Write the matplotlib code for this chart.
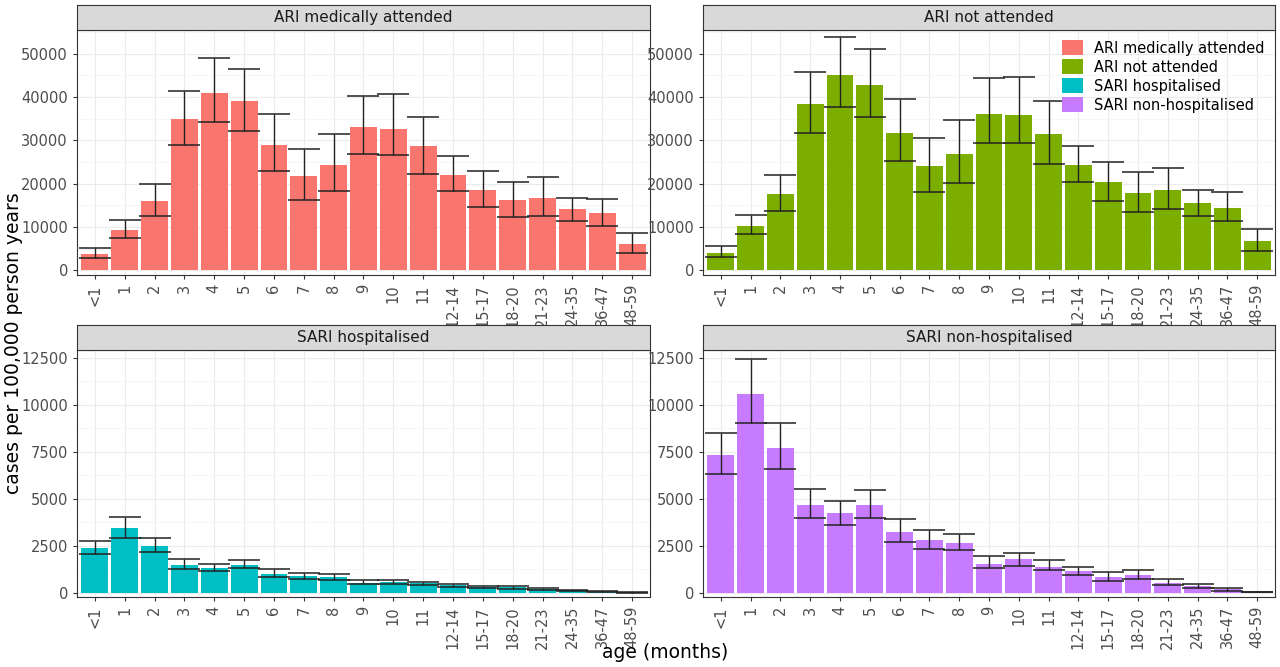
import matplotlib
matplotlib.use("Agg")
import matplotlib.pyplot as plt
import numpy as np
from matplotlib.patches import Patch

ages = ["<1","1","2","3","4","5","6","7","8","9","10","11","12-14","15-17","18-20","21-23","24-35","36-47","48-59"]
titles = ["ARI medically attended","ARI not attended","SARI hospitalised","SARI non-hospitalised"]
colors = ["#F8766D","#7CAE00","#00BFC4","#C77CFF"]

ari_med = [3800,9300,16000,35000,41000,39000,29000,21800,24400,33000,32700,28700,22000,18500,16200,16800,14200,13200,6000]
ari_med_lo = [2800,7500,12500,29000,34300,32200,23000,16300,18200,26800,26600,22200,18300,14500,12200,12600,11400,10200,4000]
ari_med_hi = [5200,11700,20000,41500,49000,46400,36000,27900,31500,40300,40600,35500,26300,22900,20500,21600,16800,16500,8700]

ari_not = [4000,10300,17500,38500,45000,42700,31800,24000,26800,36200,35800,31500,24200,20400,17900,18500,15500,14400,6700]
ari_not_lo = [3000,8300,13800,31800,37700,35500,25300,18100,20200,29500,29300,24600,20300,16000,13500,14100,12600,11300,4400]
ari_not_hi = [5700,12700,22000,45800,53800,51000,39600,30600,34600,44400,44700,39000,28800,25100,22600,23600,18500,18100,9500]

sari_hosp = [2400,3450,2500,1500,1320,1500,1020,900,820,550,580,500,400,300,290,180,130,60,20]
sari_hosp_lo = [2050,2900,2150,1250,1150,1300,850,750,680,450,480,420,330,240,230,140,100,40,10]
sari_hosp_hi = [2750,4050,2900,1800,1550,1750,1250,1080,1000,700,700,600,480,370,380,250,170,90,40]

sari_non = [7300,10550,7700,4650,4250,4650,3250,2800,2650,1550,1800,1400,1150,850,950,550,350,180,50]
sari_non_lo = [6300,9000,6600,4000,3600,3950,2700,2350,2250,1300,1450,1200,950,650,750,400,250,120,30]
sari_non_hi = [8500,12400,9000,5500,4900,5450,3900,3350,3150,1950,2100,1750,1400,1100,1200,750,450,250,70]

series = [(ari_med,ari_med_lo,ari_med_hi),(ari_not,ari_not_lo,ari_not_hi),
          (sari_hosp,sari_hosp_lo,sari_hosp_hi),(sari_non,sari_non_lo,sari_non_hi)]

fig = plt.figure(figsize=(12.8,6.67), dpi=100)
W, H = 1280, 667
boxes = [(77,30,650,275),(703,30,1275,275),(77,350,650,597),(703,350,1275,597)]
ylims = [(-1100,55500),(-1100,55500),(-220,12900),(-220,12900)]
ticks = [[0,10000,20000,30000,40000,50000]]*2 + [[0,2500,5000,7500,10000,12500]]*2
x = np.arange(len(ages))
for i,(x0,y0,x1,y1) in enumerate(boxes):
    ax = fig.add_axes([x0/W, 1-y1/H, (x1-x0)/W, (y1-y0)/H])
    v, lo, hi = series[i]
    ax.bar(x, v, width=0.9, color=colors[i], zorder=2)
    ax.errorbar(x, v, yerr=[np.array(v)-np.array(lo), np.array(hi)-np.array(v)], fmt='none',
                ecolor='#222222', elinewidth=1, capsize=11.5, capthick=1.1, zorder=3)
    ax.set_yticks(ticks[i])
    ax.set_yticks([t + ticks[i][1]/2 for t in ticks[i]], minor=True)
    ax.set_xticks(x)
    ax.set_xlim(-0.6, len(ages)-0.4)
    ax.set_ylim(*ylims[i])
    ax.set_xticklabels(ages, rotation=90, fontsize=10.5, color='#4d4d4d')
    ax.tick_params(axis='y', labelsize=10.5, labelcolor='#4d4d4d', length=3, color='#333333')
    ax.tick_params(axis='x', length=3, color='#333333')
    ax.tick_params(which='minor', length=0)
    ax.grid(True, which='major', color='#ebebeb', lw=0.8, zorder=0)
    ax.grid(True, which='minor', axis='y', color='#f3f3f3', lw=0.5, zorder=0)
    ax.set_axisbelow(True)
    for s in ax.spines.values():
        s.set_color('#333333'); s.set_linewidth(0.8)
    sax = fig.add_axes([x0/W, 1-y0/H, (x1-x0)/W, 25/H])
    sax.set_facecolor('#d9d9d9')
    sax.set_xticks([]); sax.set_yticks([])
    for s in sax.spines.values():
        s.set_color('#333333'); s.set_linewidth(0.8)
    sax.text(0.5, 0.5, titles[i], ha='center', va='center', fontsize=11, color='#1a1a1a', transform=sax.transAxes)
    if i == 1:
        handles = [Patch(facecolor=c, label=t) for c,t in zip(colors,titles)]
        ax.legend(handles=handles, loc='upper right', fontsize=10.5, frameon=False,
                  handlelength=1.4, handleheight=1.2, borderaxespad=0.3, labelspacing=0.25)

fig.text(0.003, 0.485, "cases per 100,000 person years", rotation=90, va='center', fontsize=13.5)
fig.text(0.52, 0.008, "age (months)", ha='center', va='bottom', fontsize=13.5)
fig.savefig("out.png", dpi=100)
